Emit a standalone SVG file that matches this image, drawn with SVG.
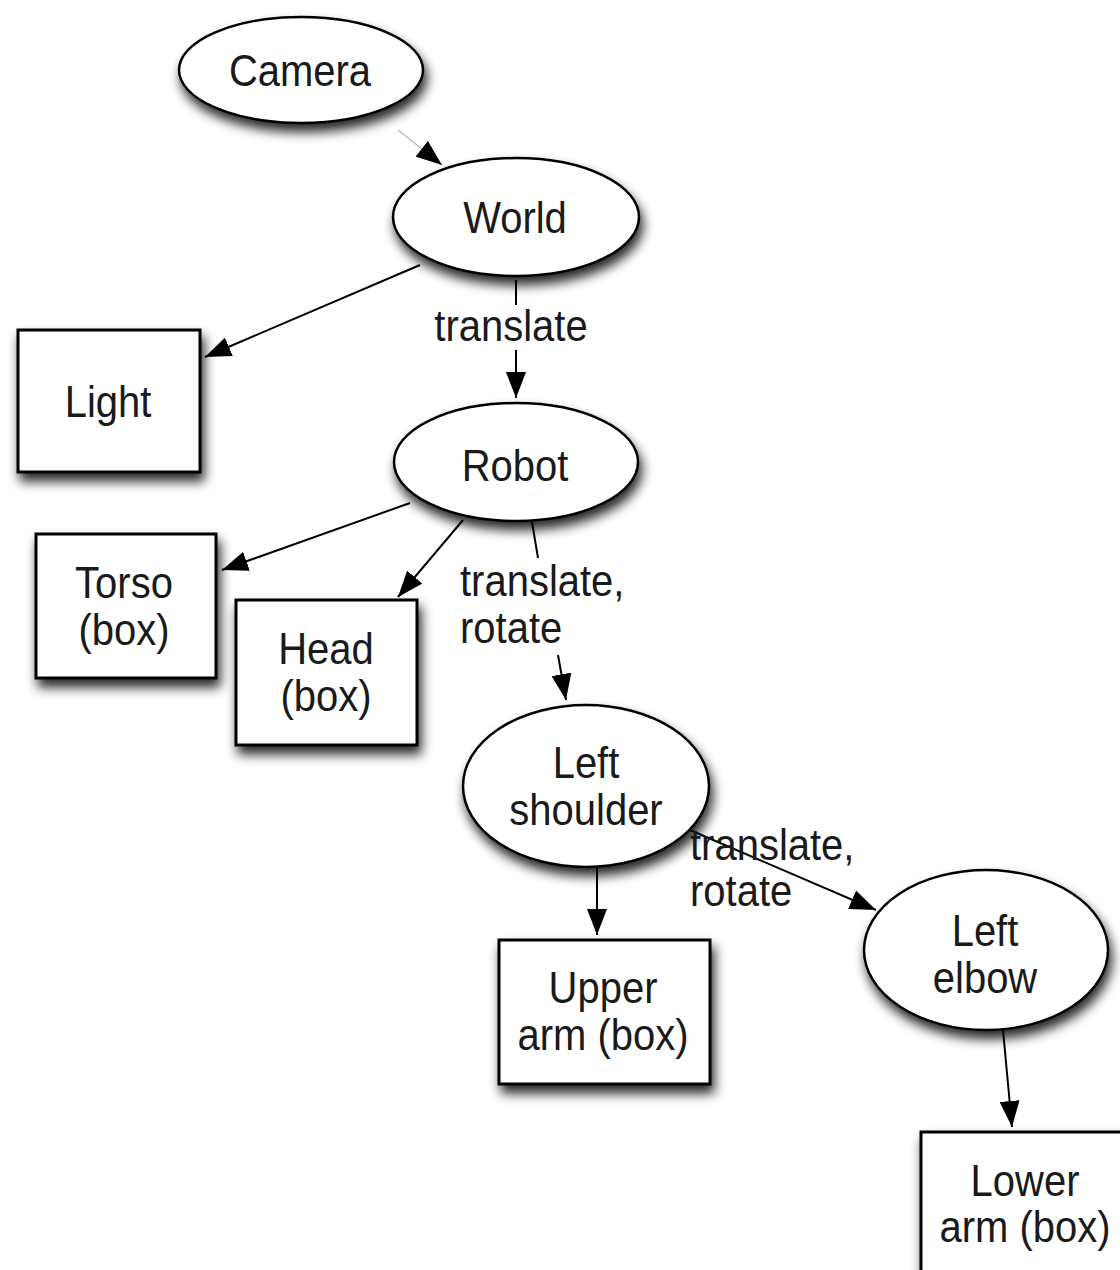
<svg xmlns="http://www.w3.org/2000/svg" width="1120" height="1270" viewBox="0 0 1120 1270">
<defs>
<filter id="sh" x="-20%" y="-20%" width="150%" height="160%">
<feGaussianBlur in="SourceAlpha" stdDeviation="6"/>
<feOffset dx="3" dy="8" result="b"/>
<feComponentTransfer><feFuncA type="linear" slope="0.85"/></feComponentTransfer>
<feMerge><feMergeNode/><feMergeNode in="SourceGraphic"/></feMerge>
</filter>
<marker id="ah" viewBox="0 0 26 20" refX="26" refY="10" markerWidth="26" markerHeight="20" markerUnits="userSpaceOnUse" orient="auto">
<path d="M0,0 L26,10 L0,20 Z" fill="#000"/>
</marker>
</defs>
<style>
.n{fill:#fff;stroke:#000;stroke-width:2.5}
.b{fill:#fff;stroke:#000;stroke-width:3}
.e{fill:none;stroke:#000;stroke-width:2;marker-end:url(#ah)}
.f{fill:none;stroke:#bbb;stroke-width:1.5;marker-end:url(#ah)}
.p{fill:none;stroke:#000;stroke-width:2}
text{font-family:"Liberation Sans",Arial,sans-serif;font-size:40px;fill:#1a1a1a}
.c{text-anchor:middle}
</style>
<rect width="1120" height="1270" fill="#fff"/>
<g id="edges">
<path class="f" d="M398,130 L442,165"/>
<path class="e" d="M420,265 L205,357"/>
<path class="p" d="M516,280 L516,305"/>
<path class="e" d="M516,350 L516,398"/>
<path class="e" d="M410,503 L222,570"/>
<path class="e" d="M463,520 L398,597"/>
<path class="p" d="M532,522 L538,558"/>
<path class="e" d="M558,655 L566,700"/>
<path class="e" d="M597,866 L597,935"/>
<path class="e" d="M690,830 L876,910"/>
<path class="e" d="M1003,1030 L1012,1127"/>
</g>
<g id="camera"><ellipse class="n" filter="url(#sh)" cx="301" cy="70" rx="122" ry="53"/><text class="c" transform="translate(300,86) scale(1,1.13)">Camera</text></g>
<g id="world"><ellipse class="n" filter="url(#sh)" cx="516" cy="217" rx="123" ry="59"/><text class="c" transform="translate(515,233) scale(1,1.13)">World</text></g>
<g id="lbl-translate"><text class="c" transform="translate(511,341) scale(1,1.13)">translate</text></g>
<g id="light"><rect class="b" filter="url(#sh)" x="18" y="330" width="182" height="142"/><text class="c" transform="translate(108,417) scale(1,1.13)">Light</text></g>
<g id="robot"><ellipse class="n" filter="url(#sh)" cx="516" cy="462" rx="122" ry="59"/><text class="c" transform="translate(515,481) scale(1,1.13)">Robot</text></g>
<g id="torso"><rect class="b" filter="url(#sh)" x="36" y="534" width="180" height="144"/><text class="c" transform="translate(124,598) scale(1,1.13)">Torso</text><text class="c" transform="translate(124,645) scale(1,1.13)">(box)</text></g>
<g id="head"><rect class="b" filter="url(#sh)" x="236" y="600" width="181" height="145"/><text class="c" transform="translate(326,664) scale(1,1.13)">Head</text><text class="c" transform="translate(326,711) scale(1,1.13)">(box)</text></g>
<g id="lbl-robot-shoulder"><text transform="translate(460,596) scale(1,1.13)">translate,</text><text transform="translate(460,643) scale(1,1.13)">rotate</text></g>
<g id="left-shoulder"><ellipse class="n" filter="url(#sh)" cx="586" cy="786" rx="123" ry="81"/><text class="c" transform="translate(586,778) scale(1,1.13)">Left</text><text class="c" transform="translate(586,825) scale(1,1.13)">shoulder</text></g>
<g id="upper-arm"><rect class="b" filter="url(#sh)" x="499" y="940" width="211" height="144"/><text class="c" transform="translate(603,1003) scale(1,1.13)">Upper</text><text class="c" transform="translate(603,1050) scale(1,1.13)">arm (box)</text></g>
<g id="lbl-shoulder-elbow"><text transform="translate(690,860) scale(1,1.13)">translate,</text><text transform="translate(690,906) scale(1,1.13)">rotate</text></g>
<g id="left-elbow"><ellipse class="n" filter="url(#sh)" cx="986" cy="950" rx="122" ry="80"/><text class="c" transform="translate(985,946) scale(1,1.13)">Left</text><text class="c" transform="translate(985,993) scale(1,1.13)">elbow</text></g>
<g id="lower-arm"><rect class="b" filter="url(#sh)" x="921" y="1132" width="210" height="160"/><text class="c" transform="translate(1025,1196) scale(1,1.13)">Lower</text><text class="c" transform="translate(1025,1242) scale(1,1.13)">arm (box)</text></g>
</svg>
